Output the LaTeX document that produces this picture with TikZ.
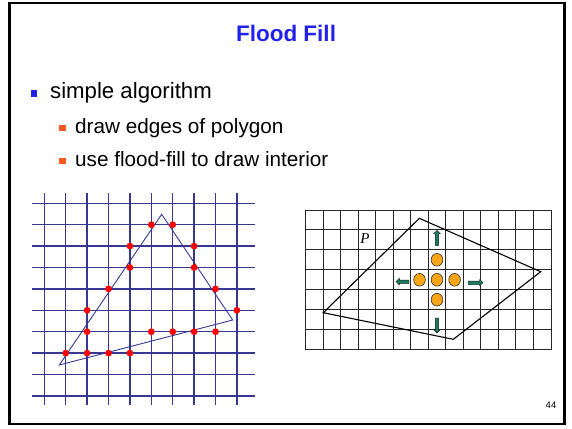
\documentclass[tikz,border=0pt]{standalone}
\usepackage{fontspec}
\setmainfont{Liberation Serif}
\setsansfont{Liberation Sans}
\usetikzlibrary{shapes.arrows,shapes.geometric}
\definecolor{ffedge}{RGB}{20,20,20}
\definecolor{fftitle}{RGB}{34,34,238}
\definecolor{ffbull}{RGB}{34,34,238}
\definecolor{ffsub}{RGB}{255,90,30}
\definecolor{ffgrid}{RGB}{55,55,145}
\definecolor{ffdot}{RGB}{255,0,0}
\definecolor{ffpix}{RGB}{247,165,25}
\definecolor{ffarr}{RGB}{25,125,95}
\tikzset{
  headline/.style={font=\sffamily\bfseries\fontsize{22.5}{26}\selectfont, text=fftitle},
  lvlone/.style={font=\sffamily\fontsize{22.2}{25}\selectfont, anchor=base west, inner sep=0pt},
  lvltwo/.style={font=\sffamily\fontsize{20.7}{24}\selectfont, anchor=base west, inner sep=0pt},
  bulone/.style={fill=ffbull, minimum size=6.7pt, inner sep=0pt},
  bultwo/.style={fill=ffsub, minimum size=6.7pt, inner sep=0pt},
  bluegrid/.style={draw=ffgrid, line width=1.4pt},
  blackgrid/.style={draw=black!85, line width=1pt},
  pixel/.style={
    ellipse, draw=ffedge, fill=ffpix, line width=0.5pt,
    minimum width=11.7pt, minimum height=12.7pt, inner sep=0pt
  },
  fillarr/.style={
    single arrow, draw=ffedge, fill=ffarr, line width=0.4pt,
    inner sep=1.4pt, minimum height=15pt,
    single arrow head extend=1.7pt, single arrow head indent=0pt
  },
  pageno/.style={font=\sffamily\fontsize{9.5}{11}\selectfont}
}
\begin{document}
\begin{tikzpicture}[x=1pt, y=-1pt]
  \useasboundingbox (0,0) rectangle (572,428);
  \draw[line width=2.3pt] (9.5,2.8) rectangle (564.5,424);

  % heading and bullets
  \node[headline] (head) at (286,33) {Flood Fill};
  \node[bulone] (b1) at (34,93.7) {};
  \node[lvlone] (t1) at (50,98.3) {simple algorithm};
  \node[bultwo] (b2) at (62.3,128) {};
  \node[lvltwo] (t2) at (75,133) {draw edges of polygon};
  \node[bultwo] (b3) at (62.3,161) {};
  \node[lvltwo] (t3) at (75,166) {use flood-fill to draw interior};

  % left: rasterised edges
  \foreach \i in {0,...,9}
    \draw[bluegrid] ({44.3+21.4*\i},193.3) -- ({44.3+21.4*\i},405);
  \foreach \j in {0,...,9}
    \draw[bluegrid] (32.3,{203.3+21.4*\j}) -- (255,{203.3+21.4*\j});
  \draw[ffgrid, line width=0.9pt, line join=miter]
    (161.7,214.3) -- (232.7,320) -- (59.3,365) -- cycle;
  \foreach \c/\r in {5/1,6/1,4/2,7/2,4/3,7/3,3/4,8/4,2/5,9/5,2/6,5/6,6/6,7/6,8/6,1/7,2/7,3/7,4/7}
    \fill[ffdot] ({44.3+21.4*\c},{203.3+21.4*\r}) circle (3.4pt);

  % right: seed and its four neighbours
  \foreach \k in {0,...,14}
    \draw[blackgrid] ({305.5+17.54*\k},210) -- ({305.5+17.54*\k},349.5);
  \foreach \j in {0,...,7}
    \draw[blackgrid] (305.5,{210+19.93*\j}) -- (551,{210+19.93*\j});
  \draw[line width=1.1pt, line join=miter]
    (419.3,218.3) -- (540.7,271.7) -- (453.3,339.3) -- (323.3,312.7) -- cycle;
  \node[font=\itshape\fontsize{15}{17}\selectfont] (plabel) at (365,239) {P};

  \node[pixel] (seed) at (437,279.8) {};
  \node[pixel] (pixN) at (437,259.8) {};
  \node[pixel] (pixS) at (437,299.7) {};
  \node[pixel] (pixW) at (419.5,279.8) {};
  \node[pixel] (pixE) at (454.6,279.8) {};

  \node[fillarr, shape border rotate=90] (goN) at (437,238.7) {};
  \node[fillarr, shape border rotate=270] (goS) at (437,324.7) {};
  \node[fillarr, shape border rotate=180, minimum height=13pt] (goW) at (403.3,281.7) {};
  \node[fillarr] (goE) at (474.7,282.7) {};

  \node[pageno] (num) at (551,405) {44};
\end{tikzpicture}
\end{document}
